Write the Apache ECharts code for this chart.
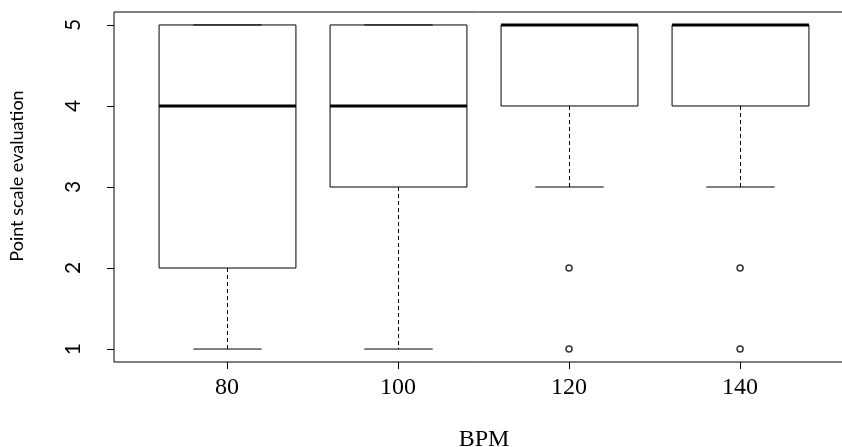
<!DOCTYPE html>
<html>
<head>
<meta charset="utf-8">
<script src="https://cdn.jsdelivr.net/npm/echarts@6/dist/echarts.min.js"></script>
<style>
  html, body { margin: 0; padding: 0; background: #fff; }
  #chart { width: 842px; height: 447px; }
</style>
</head>
<body>
<div id="chart"></div>
<script>
// groups on the x axis
var bpmLabels = ['80', '100', '120', '140'];
// five-number summaries: [min, q1, median, q3, max]
var whiskerLow = [1, 1, 3, 3];
var quart1 = [2, 3, 4, 4];
var medians = [4, 4, 5, 5];
var quart3 = [5, 5, 5, 5];
var whiskerHigh = [5, 5, 5, 5];
// outliers: [group index (1-based), value]
var outliers = [[3, 2], [3, 1], [4, 2], [4, 1]];
var yTicks = [1, 2, 3, 4, 5];

var boxData = bpmLabels.map(function (b, i) {
  return [i + 1, whiskerLow[i], quart1[i], medians[i], quart3[i], whiskerHigh[i]];
});

var chart = echarts.init(document.getElementById('chart'));

function renderBox(params, api) {
  var x = api.value(0);
  var lo = api.coord([x, api.value(1)]);
  var q1 = api.coord([x, api.value(2)]);
  var md = api.coord([x, api.value(3)]);
  var q3 = api.coord([x, api.value(4)]);
  var hi = api.coord([x, api.value(5)]);
  var bw = api.size([0.8, 0])[0];
  var cw = bw / 2;
  var cx = Math.round(lo[0]) + 0.5;
  var thin = { stroke: '#000', lineWidth: 1 };
  var dash = { stroke: '#000', lineWidth: 1, lineDash: [4, 3] };
  return {
    type: 'group',
    children: [
      { type: 'line', shape: { x1: cx, y1: q1[1], x2: cx, y2: lo[1] }, style: dash },
      { type: 'line', shape: { x1: cx, y1: q3[1], x2: cx, y2: hi[1] }, style: dash },
      { type: 'line', shape: { x1: cx - cw / 2, y1: lo[1], x2: cx + cw / 2, y2: lo[1] }, style: thin },
      { type: 'line', shape: { x1: cx - cw / 2, y1: hi[1], x2: cx + cw / 2, y2: hi[1] }, style: thin },
      { type: 'rect', shape: { x: cx - bw / 2, y: q3[1], width: bw, height: q1[1] - q3[1] },
        style: { fill: 'none', stroke: '#000', lineWidth: 1 } },
      { type: 'line', shape: { x1: cx - bw / 2, y1: md[1], x2: cx + bw / 2, y2: md[1] },
        style: { stroke: '#000', lineWidth: 3 } }
    ]
  };
}

chart.setOption({
  animation: false,
  backgroundColor: '#fff',
  grid: {
    left: 114, top: 12, width: 739, bottom: 85,
    outerBoundsMode: 'none',
    containLabel: false,
    show: true, borderColor: '#000', borderWidth: 1, backgroundColor: 'transparent'
  },
  xAxis: {
    type: 'value',
    min: 0.34, max: 4.66,
    splitLine: { show: false },
    axisLine: { show: false },
    axisTick: { show: true, customValues: [1, 2, 3, 4], length: 7, lineStyle: { color: '#000' } },
    axisLabel: {
      customValues: [1, 2, 3, 4],
      formatter: function (v) { return bpmLabels[Math.round(v) - 1]; },
      color: '#000', fontFamily: 'Liberation Serif', fontSize: 24, margin: 14
    }
  },
  yAxis: {
    type: 'value',
    min: 0.84, max: 5.16,
    splitLine: { show: false },
    axisLine: { show: false },
    axisTick: { show: true, customValues: yTicks, length: 7, lineStyle: { color: '#000' } },
    axisLabel: {
      customValues: yTicks,
      rotate: 90,
      color: '#000', fontFamily: 'Lato', fontSize: 21, margin: 30
    }
  },
  graphic: [
    {
      type: 'text', x: 8, y: 176, rotation: Math.PI / 2,
      style: { text: 'Point scale evaluation', font: '18px Lato', fill: '#000',
        align: 'center', verticalAlign: 'top' }
    },
    {
      type: 'text', x: 484, y: 428,
      style: { text: 'BPM', font: '24px "Liberation Serif"', fill: '#000', align: 'center' }
    }
  ],
  series: [
    {
      type: 'custom',
      renderItem: renderBox,
      data: boxData,
      encode: { x: 0, y: [1, 2, 3, 4, 5] }
    },
    {
      type: 'scatter',
      data: outliers,
      symbol: 'circle',
      symbolSize: 6,
      itemStyle: { color: '#fff', borderColor: '#000', borderWidth: 1.5 }
    }
  ]
});
</script>
</body>
</html>
